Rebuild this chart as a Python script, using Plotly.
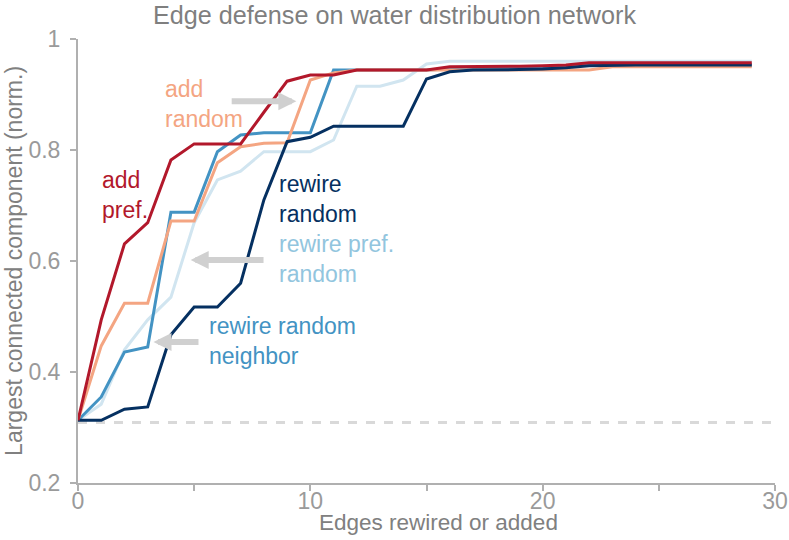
import plotly.graph_objects as go

# edges rewired or added
steps = list(range(30))

add_pref = [0.313, 0.494, 0.631, 0.669, 0.782, 0.811, 0.811, 0.811, 0.868, 0.924,
            0.935, 0.935, 0.944, 0.944, 0.944, 0.944, 0.950, 0.950, 0.950, 0.951,
            0.952, 0.953, 0.957, 0.957, 0.957, 0.957, 0.957, 0.957, 0.957, 0.957]
add_random = [0.313, 0.447, 0.524, 0.524, 0.672, 0.672, 0.777, 0.806, 0.812, 0.813,
              0.926, 0.939, 0.944, 0.944, 0.944, 0.944, 0.944, 0.944, 0.944, 0.944,
              0.944, 0.944, 0.944, 0.950, 0.950, 0.950, 0.950, 0.950, 0.950, 0.950]
rewire_neighbor = [0.313, 0.355, 0.436, 0.445, 0.688, 0.688, 0.797, 0.827, 0.831, 0.831,
                   0.831, 0.944, 0.944, 0.944, 0.944, 0.944, 0.946, 0.946, 0.947, 0.948,
                   0.950, 0.951, 0.953, 0.953, 0.953, 0.953, 0.953, 0.953, 0.953, 0.953]
rewire_random = [0.313, 0.313, 0.333, 0.337, 0.467, 0.517, 0.517, 0.560, 0.710, 0.815,
                 0.823, 0.843, 0.843, 0.843, 0.843, 0.928, 0.941, 0.944, 0.944, 0.945,
                 0.946, 0.948, 0.952, 0.953, 0.953, 0.953, 0.953, 0.953, 0.953, 0.953]
rewire_pref = [0.313, 0.342, 0.440, 0.494, 0.535, 0.669, 0.746, 0.762, 0.797, 0.797,
               0.797, 0.818, 0.915, 0.915, 0.926, 0.955, 0.960, 0.960, 0.960, 0.960,
               0.960, 0.960, 0.960, 0.960, 0.960, 0.960, 0.960, 0.960, 0.960, 0.960]

baseline = 0.309

FONT = "Liberation Sans, Arial, sans-serif"

series = [
    ("rewire pref. random", rewire_pref, "#d1e5f0"),
    ("rewire random neighbor", rewire_neighbor, "#4393c3"),
    ("add random", add_random, "#f4a582"),
    ("rewire random", rewire_random, "#053061"),
    ("add pref.", add_pref, "#b2182b"),
]

fig = go.Figure()

fig.add_trace(go.Scatter(
    x=[0, 30], y=[baseline, baseline], mode="lines",
    line=dict(color="#d9d9d9", width=3, dash="dash"),
    hoverinfo="skip",
))

for name, vals, color in series:
    fig.add_trace(go.Scatter(
        x=steps, y=vals, mode="lines", name=name,
        line=dict(color=color, width=3),
    ))

labels = [
    ("add<br>random", 3.66, 0.883, "#f4a582"),
    ("add<br>pref.", 0.95, 0.719, "#b2182b"),
    ("rewire<br>random", 8.57, 0.712, "#053061"),
    ("rewire pref.<br>random", 8.57, 0.604, "#92c5de"),
    ("rewire random<br>neighbor", 5.55, 0.456, "#4393c3"),
]
for text, x, y, color in labels:
    fig.add_annotation(
        x=x, y=y, text=text, showarrow=False, xanchor="left", yanchor="middle",
        align="left", font=dict(family=FONT, size=23, color=color),
    )

# grey arrows (head, tail)
arrows = [
    ((9.4, 0.888), (6.55, 0.888)),
    ((4.85, 0.602), (8.05, 0.602)),
    ((3.25, 0.454), (5.25, 0.454)),
]
for (hx, hy), (tx, ty) in arrows:
    fig.add_annotation(
        x=hx, y=hy, ax=tx, ay=ty, axref="x", ayref="y", text="",
        showarrow=True, arrowhead=2, arrowsize=0.6, arrowwidth=6,
        arrowcolor="#d0d0d0",
    )

fig.add_annotation(
    x=30.2, y=0.33, text="top 30 <b>rb</b> nodes removed", showarrow=False,
    xanchor="right", yanchor="middle",
    font=dict(family=FONT, size=23, color="#8c8c8c"),
)

# axis titles
fig.add_annotation(
    x=0.517, y=-0.09, xref="paper", yref="paper", text="Edges rewired or added",
    showarrow=False, xanchor="center", yanchor="middle",
    font=dict(family=FONT, size=22.5, color="#808080"),
)
fig.add_annotation(
    x=-0.092, y=0.5, xref="paper", yref="paper", text="Largest connected component (norm.)",
    showarrow=False, xanchor="center", yanchor="middle", textangle=-90,
    font=dict(family=FONT, size=23, color="#808080"),
)

fig.update_layout(
    width=789, height=540,
    margin=dict(l=78, r=14, t=39, b=57),
    plot_bgcolor="white", paper_bgcolor="white",
    showlegend=False,
    font=dict(family=FONT),
    title=dict(
        text="Edge defense on water distribution network",
        x=0.5, xref="container", y=0.972, yanchor="middle",
        font=dict(family=FONT, size=25.2, color="#7f7f7f"),
    ),
)
fig.update_xaxes(
    range=[0, 30], tickvals=[0, 10, 20, 30], showgrid=False, zeroline=False,
    automargin=False,
    showline=True, linecolor="#b0b0b0", linewidth=2,
    ticks="outside", ticklen=6, tickwidth=2, tickcolor="#b0b0b0",
    ticklabelstandoff=-10,
    minor=dict(tickvals=[5, 15, 25], ticks="outside", ticklen=6, tickwidth=2, tickcolor="#b0b0b0"),
    tickfont=dict(family=FONT, size=23, color="#9a9a9a"),
)
fig.update_yaxes(
    range=[0.2, 1], tickvals=[0.2, 0.4, 0.6, 0.8, 1], ticktext=["0.2", "0.4", "0.6", "0.8", "1"],
    showgrid=False, zeroline=False, automargin=False,
    showline=True, linecolor="#b0b0b0", linewidth=2,
    ticks="outside", ticklen=6, tickwidth=2, tickcolor="#b0b0b0",
    ticklabelstandoff=5,
    tickfont=dict(family=FONT, size=23, color="#9a9a9a"),
)

# drop the default 8px page margin so the figure sits at the window's corner
fig.write_html(
    "out.html",
    config={"displayModeBar": False},
    post_script="document.body.style.margin = '0';",
)
